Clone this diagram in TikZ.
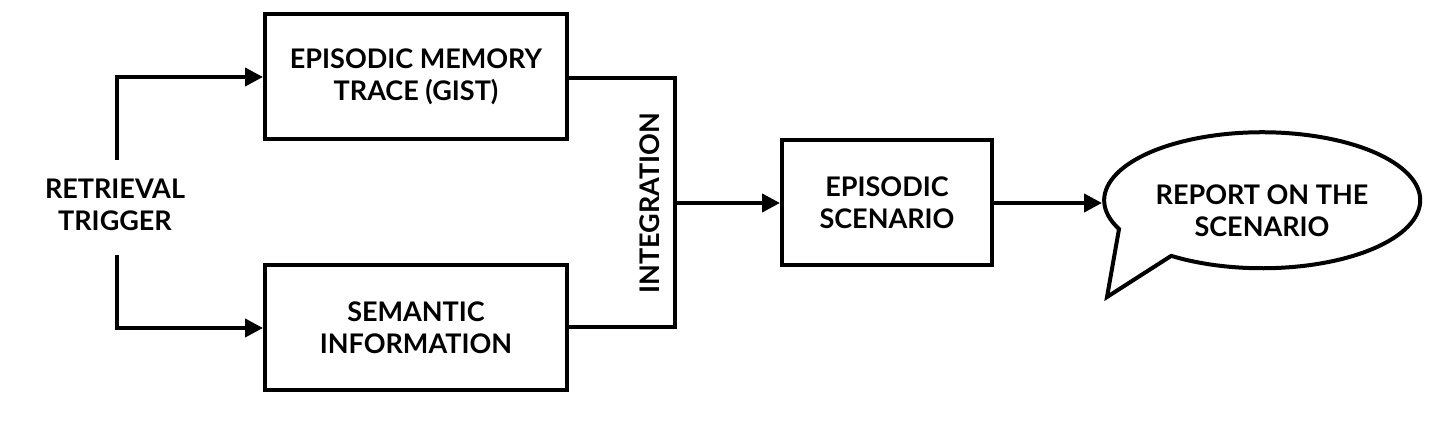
\documentclass[tikz,border=0pt]{standalone}
\usepackage{fontspec}
\setmainfont{Lato}[UprightFont=* Bold]
\usetikzlibrary{arrows.meta}
\begin{document}
\begin{tikzpicture}[x=0.5pt,y=0.5pt,
  box/.style={draw,line width=2pt,align=center,font=\fontsize{13.5}{16}\selectfont},
  txt/.style={align=center,font=\fontsize{13.5}{16}\selectfont},
  ln/.style={line width=2pt},
  ar/.style={line width=2pt,-{Triangle[length=9pt,width=9pt]}}]
\useasboundingbox (0,0) rectangle (1455,427);
\node[box,minimum width=151pt,minimum height=62.5pt] (em) at (416,350) {EPISODIC MEMORY\\TRACE (GIST)};
\node[box,minimum width=151pt,minimum height=62.5pt] (si) at (416,99) {SEMANTIC\\INFORMATION};
\node[txt] (rt) at (115,222) {RETRIEVAL\\TRIGGER};
\node[box,minimum width=105pt,minimum height=62.5pt] (es) at (887,224) {EPISODIC\\SCENARIO};
\coordinate (t1) at (117,267);
\coordinate (t2) at (117,172);
\coordinate (ia) at (675,349);
\coordinate (ib) at (675,100);
\coordinate (im) at (675,224);
\node[txt,rotate=90] (int) at (650,224) {INTEGRATION};
\draw[ar] (t1) |- (em.west);
\draw[ar] (t2) |- (si.west);
\draw[ln] (em.east |- ia) -- (ia) -- (ib) -- (si.east |- ib);
\draw[ar] (im) -- (es.west);
% speech bubble
\draw[line width=2pt,fill=white] (1171,171) -- (1107,130) -- (1119,198)
  arc[start angle=205,end angle=-125,x radius=158,y radius=68] -- cycle;
\node[txt] (rep) at (1262,216) {REPORT ON THE\\SCENARIO};
\coordinate (bl) at (1102,224);
\draw[ar] (es.east) -- (bl);
\end{tikzpicture}
\end{document}
